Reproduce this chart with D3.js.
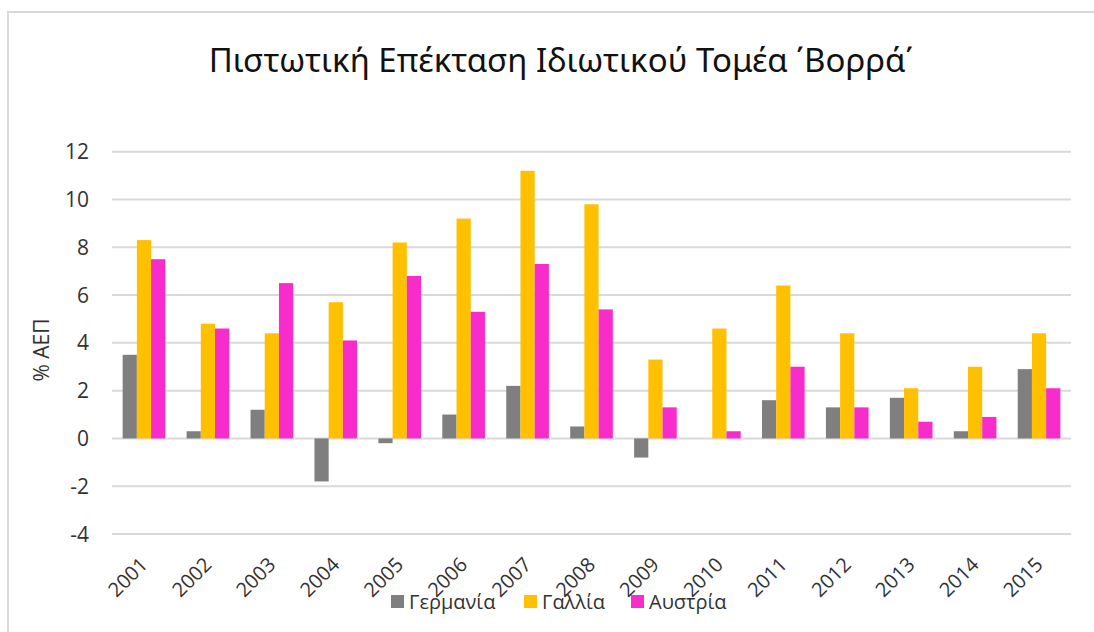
<html>
<head>
<meta charset="utf-8">
<script src="https://d3js.org/d3.v7.min.js"></script>
<style>
    body { margin: 0; background: #fff; }
    text { font-family: "Open Sans", sans-serif; fill: #262626; }
    .grid line { stroke: #d9d9d9; stroke-width: 2px; }
    .tick-label { font-size: 21px; fill: #333; }
    .title { font-family: "Noto Sans", sans-serif; font-size: 33px; fill: #111; }
    .legend text { font-size: 20px; fill: #333; }
</style>
</head>
<body>
<script>
    var years = ["2001", "2002", "2003", "2004", "2005", "2006", "2007", "2008",
                 "2009", "2010", "2011", "2012", "2013", "2014", "2015"];
    var germany = [3.5, 0.3, 1.2, -1.8, -0.2, 1.0, 2.2, 0.5, -0.8, 0.0, 1.6, 1.3, 1.7, 0.3, 2.9];
    var france  = [8.3, 4.8, 4.4, 5.7, 8.2, 9.2, 11.2, 9.8, 3.3, 4.6, 6.4, 4.4, 2.1, 3.0, 4.4];
    var austria = [7.5, 4.6, 6.5, 4.1, 6.8, 5.3, 7.3, 5.4, 1.3, 0.3, 3.0, 1.3, 0.7, 0.9, 2.1];
    var seriesNames = ["Γερμανία", "Γαλλία", "Αυστρία"];
    var seriesColors = ["#7f7f7f", "#ffc000", "#f82bcb"];
    var yTicks = [-4, -2, 0, 2, 4, 6, 8, 10, 12];

    var W = 1094, H = 632;
    var plot = {left: 112, right: 1071, top: 151.7, bottom: 534};

    var svg = d3.select("body").append("svg")
        .attr("width", W)
        .attr("height", H);

    // chart frame (cut off at the right and bottom in the picture)
    svg.append("rect")
        .attr("x", 8).attr("y", 12)
        .attr("width", W + 20).attr("height", H + 20)
        .attr("fill", "#fff")
        .attr("stroke", "#d9d9d9")
        .attr("stroke-width", 2);

    svg.append("text")
        .attr("class", "title")
        .attr("x", 561)
        .attr("y", 72)
        .attr("text-anchor", "middle")
        .text("Πιστωτική Επέκταση Ιδιωτικού Τομέα ΄Βορρά΄");

    var x = d3.scaleBand()
        .domain(years)
        .range([plot.left, plot.right])
        .padding(0);

    // gap width 150% -> bars occupy 3 / 4.5 of each band
    var gap = x.bandwidth() * 1.5 / 4.5;
    var x1 = d3.scaleBand()
        .domain(d3.range(seriesNames.length))
        .range([gap / 2, x.bandwidth() - gap / 2]);

    var y = d3.scaleLinear()
        .domain([-4, 12])
        .range([plot.bottom, plot.top]);

    var grid = svg.append("g").attr("class", "grid");
    grid.selectAll("line")
        .data(yTicks)
        .enter().append("line")
        .attr("x1", plot.left)
        .attr("x2", plot.right)
        .attr("y1", function (d) { return y(d); })
        .attr("y2", function (d) { return y(d); });

    svg.append("g")
        .selectAll("text")
        .data(yTicks)
        .enter().append("text")
        .attr("class", "tick-label")
        .attr("x", 89)
        .attr("y", function (d) { return y(d); })
        .attr("dy", "0.36em")
        .attr("text-anchor", "end")
        .text(function (d) { return d; });

    svg.append("text")
        .attr("class", "tick-label")
        .attr("transform", "translate(49,350) rotate(-90)")
        .attr("text-anchor", "middle")
        .text("% ΑΕΠ");

    var allSeries = [germany, france, austria];
    var rows = years.map(function (yr, i) {
        return {year: yr, values: allSeries.map(function (s) { return s[i]; })};
    });

    var groups = svg.append("g")
        .selectAll("g")
        .data(rows)
        .enter().append("g")
        .attr("transform", function (d) { return "translate(" + x(d.year) + ",0)"; });

    groups.selectAll("rect")
        .data(function (d) { return d.values; })
        .enter().append("rect")
        .attr("x", function (d, i) { return x1(i); })
        .attr("width", x1.bandwidth())
        .attr("y", function (d) { return y(Math.max(0, d)); })
        .attr("height", function (d) { return Math.abs(y(d) - y(0)); })
        .attr("fill", function (d, i) { return seriesColors[i]; });

    svg.append("g")
        .selectAll("text")
        .data(years)
        .enter().append("text")
        .attr("class", "tick-label")
        .attr("transform", function (d) {
            return "translate(" + (x(d) + x.bandwidth() / 2 + 5) + ",566) rotate(-45)";
        })
        .attr("text-anchor", "end")
        .style("font-size", "20px")
        .text(function (d) { return d; });

    // legend
    var legend = svg.append("g").attr("class", "legend");
    var legendX = [391, 524, 631];
    seriesNames.forEach(function (name, i) {
        legend.append("rect")
            .attr("x", legendX[i]).attr("y", 595)
            .attr("width", 13).attr("height", 13)
            .attr("fill", seriesColors[i]);
        legend.append("text")
            .attr("x", legendX[i] + 18)
            .attr("y", 609)
            .text(name);
    });
</script>
</body>
</html>
